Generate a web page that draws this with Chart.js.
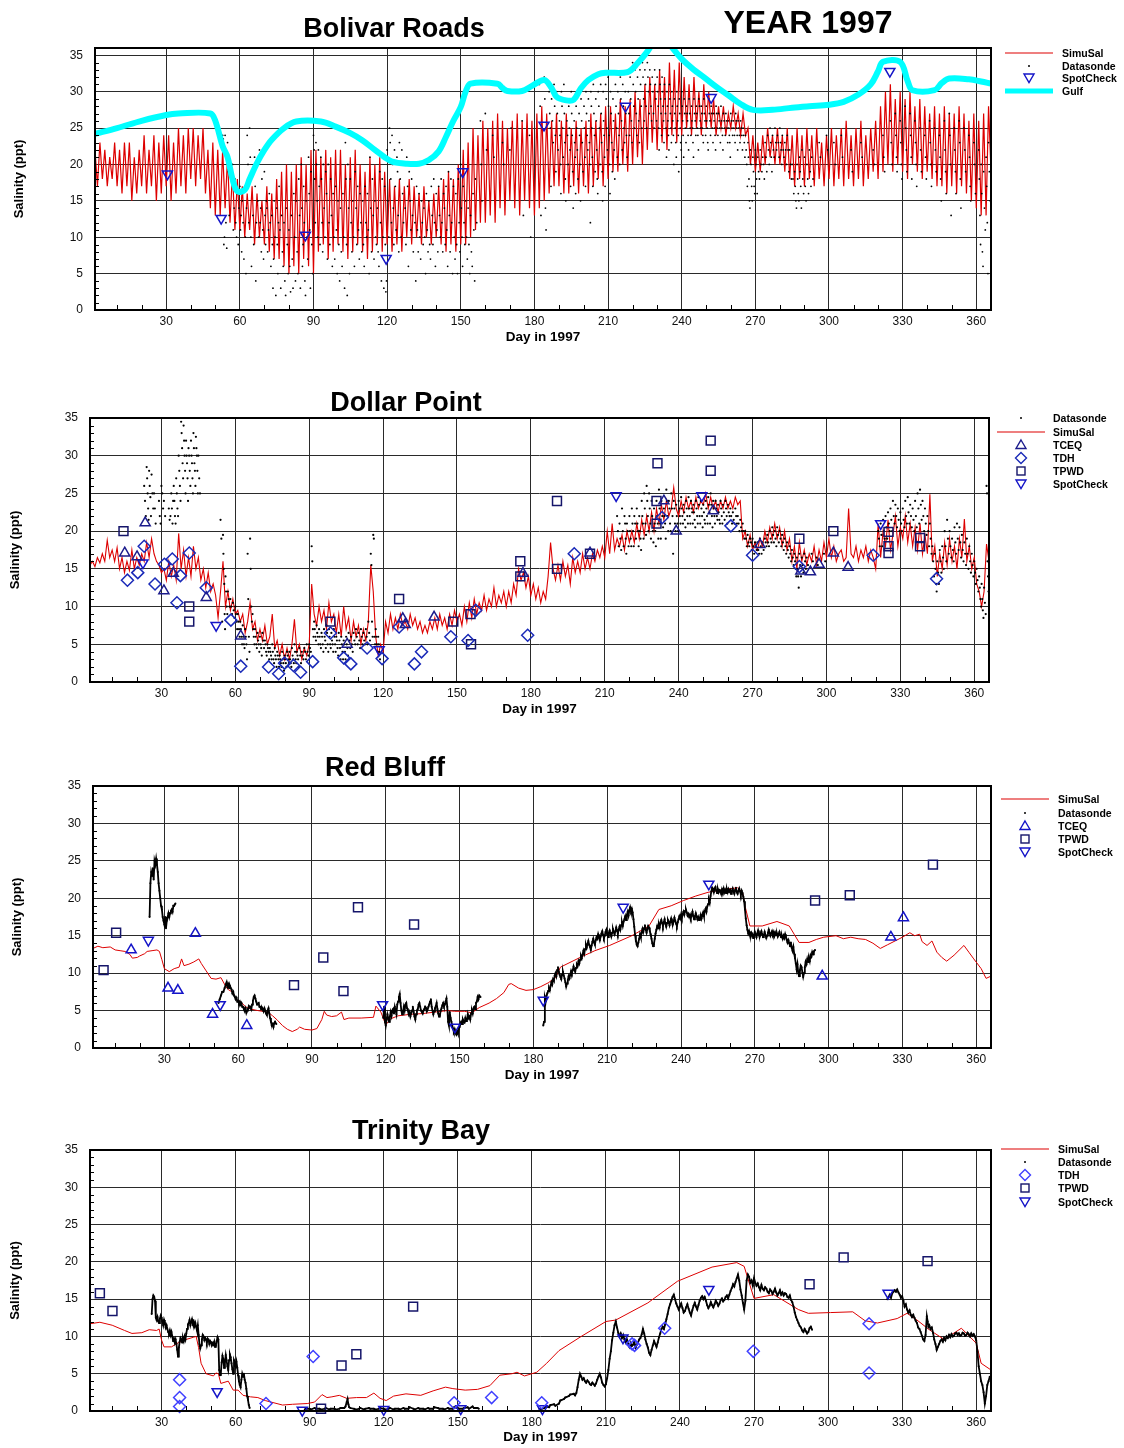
<!DOCTYPE html>
<html>
<head>
<meta charset="utf-8">
<script src="https://cdn.jsdelivr.net/npm/chart.js@4.4.0/dist/chart.umd.min.js"></script>
<style>
  body { margin: 0; background: #fff; width: 1124px; height: 1448px; position: relative; overflow: hidden;
         font-family: "Liberation Sans", Arial, sans-serif; }
  canvas { position: absolute; left: 0; }
  .title { position: absolute; font-weight: bold; font-size: 27px; line-height: 1; white-space: nowrap; transform: translateX(-50%); }
  .leg { position: absolute; font-weight: bold; font-size: 10.5px; line-height: 13px; white-space: nowrap; }
  .sym { position: absolute; }
</style>
</head>
<body>
<canvas id="bolivar" width="1124" height="350" style="top:0px"></canvas>
<canvas id="dollar" width="1124" height="345" style="top:375px"></canvas>
<canvas id="redbluff" width="1124" height="345" style="top:740px"></canvas>
<canvas id="trinity" width="1124" height="343" style="top:1105px"></canvas>

<div class="title" style="left:394px; top:15px">Bolivar Roads</div>
<div class="title" style="left:808px; top:6px; font-size:32px">YEAR 1997</div>
<div class="title" style="left:406px; top:389px">Dollar Point</div>
<div class="title" style="left:385px; top:754px">Red Bluff</div>
<div class="title" style="left:421px; top:1117px">Trinity Bay</div>

<script>
// ---- axis ticks ----
const dayTicks = [30, 60, 90, 120, 150, 180, 210, 240, 270, 300, 330, 360];
const salTicks = [0, 5, 10, 15, 20, 25, 30, 35];

// ================= Bolivar Roads =================
// SimuSal, one reading per day (day 1..366)
const bolSimSal = [
  22,17,23,18,22,17,21,18,23,17,
  22,16,23,17,23,15,21,16,22,17,
  24,16,22,17,24,15,23,16,24,17,
  24,15,23,16,25,17,24,16,25,18,
  25,17,24,18,25,16,22,14,23,13,
  22,13,22,14,21,12,19,11,18,11,
  17,10,16,11,17,9,16,10,15,9,
  17,8,16,7,18,7,19,6,20,5,
  19,6,20,5,21,7,20,6,22,5,
  22,8,21,9,22,7,21,8,22,9,
  22,8,20,7,21,8,22,9,20,8,
  19,7,21,8,20,9,21,8,19,9,
  18,8,17,9,18,8,17,10,18,9,
  17,10,16,9,17,10,15,9,16,10,
  17,9,18,8,19,9,18,8,20,9,
  22,9,23,10,25,11,24,12,26,12,
  25,13,26,12,27,14,26,13,25,15,
  26,14,27,13,26,15,27,14,26,13,
  27,14,28,15,27,16,26,17,27,17,
  26,16,27,16,25,17,26,16,25,17,
  26,16,27,17,26,18,27,17,28,18,
  28,19,27,19,29,20,28,19,29,20,
  30,21,29,20,31,22,32,23,31,22,
  33,23,32,22,34,24,33,23,34,24,
  32,25,31,24,32,25,30,24,31,25,
  30,25,29,24,28,25,28,24,27,25,
  28,25,27,24,27,24,25,20,24,19,
  23,19,24,20,25,21,24,20,25,20,
  24,19,25,18,24,17,25,18,24,17,
  25,18,24,17,25,18,23,17,24,18,
  25,17,24,18,25,17,26,18,24,17,
  25,18,26,17,24,18,25,19,26,18,
  28,19,30,20,31,19,29,20,30,19,
  29,18,30,20,28,19,29,18,28,19,
  27,18,28,17,27,17,28,16,27,17,
  27,16,28,17,27,16,26,15,27,14,
  26,13,27,13,28,19
];
// Gulf boundary salinity [day, ppt]
const bolGulf = [
  [1,24.2],[10,25],[20,26],[30,26.8],[35,27],[48,27],[50,26],[53,22.5],[55,21],[57,18],[59,16.3],
  [62,16.5],[64,18],[67,20.2],[70,22],[73,23.4],[78,25],[83,25.9],[93,25.9],[99,25.2],[105,24.3],
  [110,23.3],[115,22],[119,21],[122,20.4],[128,20.1],[133,20.1],[137,20.6],[141,21.8],[144,23.8],
  [147,26],[150,27.9],[152,30],[154,31.1],[165,31.1],[167,30.5],[169,30.1],[175,30.1],[179,30.8],
  [184,31.6],[187,30.5],[189,29.3],[193,28.8],[196,28.9],[199,30.5],[202,31.6],[206,32.4],[209,32.6],
  [218,32.7],[222,33.9],[226,35.5],[229,37],[232,37.5],[235,36.5],[240,34.5],[245,33],[249,32],
  [254,30.7],[259,29.5],[264,28.3],[269,27.5],[277,27.5],[285,27.8],[292,28],[300,28.2],[306,28.6],
  [312,29.6],[317,31],[320,32.8],[322,34.1],[329,34.1],[332,31.5],[334,30.2],[343,30.2],[346,31.2],
  [349,31.8],[357,31.7],[362,31.4],[366,31.1]
];
const bolSpot = [[30.5,18.7],[52.4,12.6],[86.7,10.3],[119.6,7.1],[150.8,19],[183.9,25.4],[217.1,28],[252,29.2],[324.8,32.8]];
// Datasonde: [day, readings...]
const bolSonde = [
  [53,24,23.5,9,10],[54,24,12,8.5],[55,23,19,13],[57,20,11,14],[58,18,12,10],[59,16,9,14],[60,17,11,13,8],
  [61,15,12,7],[62,17,10,5,14],[63,24,20,12],[64,25,21,10,6],[65,19,13,9],[66,21,17,4,12],[67,20,15,10],
  [68,22,12,14,8],[69,18,11,7],[70,19,13,9,15],[71,14,8,11],[72,16,12,6],[73,13,9,3,7],[74,15,10,2],
  [75,14,9,5,12],[76,17,11,3],[77,13,8,6],[78,12,4,2],[79,14,9,5],[80,11,6,2.5],[81,13,7,3],[82,16,10,4],
  [83,15,8,5],[84,18,13,3],[85,20,14,6,9],[86,17,12,4,2],[87,15,10,7],[88,21,16,11,3],[89,19,9,5],
  [90,24,22,18,12],[91,23,20,15,10],[92,22,17,9],[93,21,18,12,8],[94,20,14,10],[95,19,16,7],[96,20,12,9],
  [97,18,13,6],[98,16,10,7],[99,17,11,5],[100,15,9,4],[101,14,8,6],[102,16,10,3],[103,23,18,9,2],
  [104,20,14,5],[105,18,12,8],[106,15,10,6],[107,19,14,9],[108,17,11,7],[109,16,12,8],[110,15,9,6],
  [111,17,12,10],[112,16,11,5],[113,21,14,8],[114,18,13,7],[115,15,10,9],[116,14,8,6],[117,19,12,4],
  [118,18,10,3],[119,17,9,2.5,4],[120,22,15,10],[121,25,23,18,12],[122,24,20,14,9],[123,22,17,11],
  [124,21,19,13,8],[125,23,18,10],[126,22,16,12],[127,20,14,9],[128,21,17,6],[129,19,15,11],[130,18,13,8],
  [131,20,12,4],[132,17,11,8],[133,16,10,7],[134,15,12,9],[135,14,10,5],[136,16,11,8],[137,15,9,7],
  [138,17,13,9],[139,18,12,6],[140,16,11,8],[141,17,13,10],[142,18,12,8],[143,16,14,9],[144,17,11,6],
  [145,19,13,8],[146,18,12,5],[147,17,10,7],[148,16,9,5],[149,18,12,8],[150,20,14,10,6],[151,17,12,9],
  [152,15,10,7],[153,14,9,5],[154,13,8,6],[155,16,11,4],[156,18,12],[158,26,20,15],[160,27,22],
  [163,24,21],[167,23,20],[170,22,25],[175,26,13],[178,24,10],[182,31,28,13],[184,32,29,14,11],
  [186,30,27,25,17],[187,29,26,23],[188,31,28,24,19],[189,30,27,22],[190,29,26,24,20,16],[191,30,28,25,21],
  [192,31,27,23,18,15],[193,29,26,24,20],[194,28,25,22,17],[195,30,27,24,19,14],[196,29,26,23,21,16],
  [197,28,25,22,18],[198,30,27,24,20,15],[199,29,26,23,19],[200,31,28,25,21,17],[201,30,27,24,22],
  [202,29,26,23,20,12],[203,30,28,25,21,17],[204,31,27,24,19],[205,29,26,22,18,16],[206,30,28,25,20],
  [207,31,27,23,19,15],[208,30,26,24,21,17],[209,31,29,25,22],[210,32,28,24,20,16],[211,30,27,23,19],
  [212,29,26,22,18],[213,31,28,25,21],[214,30,27,24,20],[215,32,29,26,22],[216,31,28,25,23],
  [217,30,27,24,21],[218,33,30,27,24],[219,32,29,26,23],[220,34,31,28,25],[221,33,30,27,24],
  [222,32,29,26,23],[223,33,31,28,25],[224,34,32,29,26],[225,33,31,28,25],[226,34,32,30,27],
  [227,33,31,28,26],[228,32,30,27,25],[229,33,31,29,26],[230,32,30,28,25,22],[231,33,31,29,27,24],
  [232,32,30,28,26,23],[233,31,29,27,25,21],[234,30,28,26,24,22],[235,31,29,27,25,23],[236,30,28,26,24,20],
  [237,29,27,25,23,21],[238,30,28,26,24,19],[239,29,27,25,23,22],[240,30,28,26,24,21],[241,29,27,25,23],
  [242,28,27,26,24,22],[243,29,27,25,24],[244,28,26,25,23,21],[245,29,27,26,24],[246,28,27,25,24,22],
  [247,29,28,26,25],[248,28,27,25,24,23],[249,29,27,26,24],[250,28,26,25,23,22],[251,29,27,26,24],
  [252,28,27,25,23],[253,27,26,25,24,22],[254,28,27,25,24],[255,27,26,25,23],[256,28,26,25,24,22],
  [257,27,26,25,24],[258,27,26,25,23],[259,26,25,24,23,21],[260,27,26,25,24],[261,26,25,24,23],
  [262,27,26,25,24,22],[263,26,25,24,23],[264,26,25,24,22],[265,25,24,23,21],[266,24,22,20,17],
  [267,23,21,18,15,14],[268,22,20,17,15],[269,21,19,17,16],[270,22,20,18,16],[271,21,19,18],
  [272,22,20,19],[273,21,20,18],[274,23,21,19],[275,24,22,20],[276,25,23,21,19],[277,24,22,21],
  [278,25,23,22],[279,24,23,21],[280,25,23,22,20],[281,24,22,21],[282,23,22,20],[283,24,22,19],
  [284,22,20,18],[285,20,18,16],[286,19,17,15,14],[287,20,18,16,15],[288,21,19,17,14],[289,22,18,16],
  [290,21,17,15],[291,20,18,16],[292,22,19,17],[293,21,18],[296,23,21],[299,24,22],[302,23,20],
  [305,24,21],[309,22,19],[313,23,21],[318,22,20],[322,24,21,19],[325,26,23,20],[327,27,24,21,19],
  [329,26,23,20,18],[331,28,25,22,19],[333,27,24,21,18],[335,26,23,20,17],[337,25,22,19],[339,24,21,18],
  [341,26,23,20,17],[343,25,22,19],[345,24,21,18,15],[347,26,22,19,16],[349,27,24,20,13],[351,25,22,19,16],
  [353,26,23,18,14],[355,25,22,19],[357,24,21,17,15],[359,23,20,16],[361,22,18,13,9],[362,20,16,8,6],
  [363,19,14,11],[364,21,17,12,5],[365,23,19,15]
];

// ================= Dollar Point =================
const dolSimSal = [
  15.5,16,15.3,16.5,15.8,17,16,18.8,16.5,17.5,
  16,17.8,15,16.5,14.5,16,14.8,17.5,15,16.5,
  15.5,17,16,18.5,16.5,19,17,16,15.5,14.5,
  15,13.5,16,14,15.5,13.5,19.7,15,17.5,14,
  16.5,14,18,15,16.5,13.5,15,12.5,14.5,12,
  13,11.5,8.5,12,16,10,12,9.5,11,9,
  9.5,8,9,6.5,8,10.5,7,8,5.5,7,
  5.5,7.5,5,6,9,4.5,5.5,3.5,5,3,
  4.5,3,5,8.3,4,5,3,4.5,3.5,5,
  13,9,7.5,10,8,9.5,7,10.5,8,9,
  6.5,9,6,10,7,8.5,5.5,8,6,7.5,
  5,7,5.5,8,15.5,12,6,3.5,5,4,
  8,6.5,9,7,8.5,7,9,7.5,8,7,
  9,7.5,8.5,7,8,6.5,7.5,6.5,8,7,
  8.5,7,9,7.5,8.5,7,9,7.5,9.5,8,
  9,7.5,10,8,10.5,8.5,11,9,10.5,9.5,
  11.5,9.5,11,10,12.5,10,11.5,10.5,12,10,
  12,10.5,13,11.5,15,13.5,14.5,12.5,14,11.5,
  13,11,12.5,10.5,12,11,14,18.5,15,13.5,
  15.5,13.5,16,14,15.5,13,16.5,14.5,16,14.5,
  17,15,16.5,15,17,16,17.5,16.5,18,16.5,
  20,17,21,17.5,19,18,19.5,17.5,20,18.5,
  20,18.5,21,19,21.5,19.5,22,20,22.5,20,
  23,21,23.5,21.5,24,22,23,25.8,23,22,
  24,22.5,24.5,23,24,22.5,24.5,23,24,23.5,
  25,23,24.5,23,24,22.5,24,23,24.5,23,
  24,23,24.5,23.5,24,19,20,18,19.5,17.5,
  18.5,17.5,19,18,20,18.5,20.5,19,21,19,
  20.5,18,20,17.5,19,16,18,15,18.5,16,
  17.5,15.5,17,16,18,15.5,17.5,16,18.5,16.5,
  19,16.5,18,16,17,17.5,16,16.5,23,17,
  16.5,18,16,17.5,16.5,18,16,17.5,16.5,15,
  21,16.5,20,18,21.5,17.5,19.5,22,18,20.5,
  19,22,18.5,21,18,20.5,17.5,21,17,19.5,
  17,24.9,16,18,14,17,15,18.5,15.5,19,
  16,18,15,19,16.5,21.6,16,18,15,16.5,
  13,12,10,12,18.3,16
];
const dolSonde = [
  [23,26,24,22],[24,28.5,27,25,23,21.5],[25,28,26,24.5,22],[26,27.5,25,23],[27,25,23,21],[29,24,22,21],
  [30,26,25,23],[31,24,22],[33,23,21.5,22],[34,25,23,21,24],[35,26,24,22,21],[36,27,25,23,22],
  [37,30,28,26,24],[38,34.5,33,31,29,27],[39,34,32,30,28,25],[40,32,30,29,27,24],[41,31,30,28,26],
  [42,32,30,29,27,25],[43,33,31,29,28,26],[44,32.5,31,30,28,25],[45,30,27,25],
  [54,21.5,19,8],[55,19.5,17,15,13,9,7],[56,14,12,10,9],[57,12,11,10],[58,11,10,9],[59,10.5,9.5,8.5],
  [60,10,9,8,7],[61,9,8,7,6],[62,8,7,6,5],[63,7.5,6,5,4.5],[64,7,6,5,3],[65,17,11,6,4],[66,19,15,10,8],
  [67,9,7,6,5],[68,7,6,5,4.5],[69,6.5,5.5,5,4],[70,6,5,4.5,3.5],[71,6.5,5.5,4.5],[72,5.5,5,4,3.5],
  [73,5,4.5,4,3],[74,4.5,4,3.5,3],[75,5,4,3,2.5],[76,4.5,3.5,3,2],[77,4,3.5,3,2],[78,3.5,3,2.5,2],
  [79,4,3,2.5,1.5],[80,3.5,3,2.5,2],[81,4,3.5,3,2.5],[82,4,3,2.5,2],[83,4.5,3.5,3,2.5],[84,5,4,3,2.5],
  [85,4,3.5,3,2],[86,4.5,3.5,2.5],[87,4,3.5,3],[88,4.5,4,3],[89,5,4,3.5],[90,5,4.5,4],[91,18,16,7,6],
  [92,8,7,6,5.5],[93,7.5,6.5,6,5],[94,7,6,5,4.5],[95,6.5,6,5,4],[96,7,6,5.5,4.5],[97,7.5,6.5,5,4],
  [98,7,6,5,4.5],[99,6.5,5.5,5,4],[100,7,6,5,4],[101,6,5.5,4.5,3.5],[102,6.5,5.5,4.5,3],[103,6,5,4,3],
  [104,5.5,5,4,3],[105,6,5,4.5,3.5],[106,6.5,5.5,4.5],[107,6,5,4],[108,6.5,5.5,5],[109,7,6,5],
  [110,6.5,5.5,4.5],[111,7,6,5],[112,6.5,5.5,5],[113,7,6,5],[114,8,6.5,5.5],[115,17,15.5,8,6],
  [116,19.5,19,6,5],[117,7,6,5,4],[118,6,5,4,3],
  [215,22,20,18],[216,21,19,17.5],[217,23,20,18],[218,22,21,19,17],[219,21,20,18],[220,22,20,19,18],
  [221,23,21,20,18],[222,22,21,19],[223,23,21,20,18],[224,22,20,19,17.5],[225,24,22,21,19],
  [226,25,23,21,19.5],[227,26,24,22,20],[228,25,23,21,19],[229,24,22,20,18.5],[230,23,21,20,18],
  [231,24,22,21,19],[232,25.5,23,21,19],[233,24,22,20.5],[234,23,22,21,19],[235,25.5,24,22,20],
  [236,24,23,21,20],[237,25,23,22,17],[238,24,23,21,20],[239,23.5,22,21,20],[240,24,23,22,21],
  [241,24.5,23,22,21],[242,23.5,22.5,21.5,20.5],[243,24,23,22,21],[244,24.5,23,22,21],[245,24,23,22.5,21],
  [246,23.5,22.5,21.5,20.5],[247,24,23,22,21],[248,24.5,23.5,22,21],[249,24,23,22,20.5],
  [250,23.5,22.5,21.5,21],[251,24,23,22,21],[252,24.5,23.5,22.5,21],[253,25,23.5,22,20.5],
  [254,24,23,22,21],[255,24,23,22,21.5],[256,23.5,22.5,21.5,21],[257,24,23,22,21],[258,23.5,22.5,21.5],
  [259,24,23,22,21],[260,23.5,22.5,22],[261,23,22,21],[262,22.5,21.5,21],[263,23,22,21],[264,22,21,20],
  [265,21.5,20.5,20],[266,21,20,19],[267,20,19,18],[268,19.5,18.5,18],[269,19,18.5,17.5],[270,19,18,17],
  [271,18.5,18,17.5],[272,18.5,17.5,17],[273,19,18,17],[274,18.5,17.5],[275,19,18.5,18],[276,19.5,18.5,18],
  [277,20,19,18.5],[278,20.5,19.5,18.5],[279,20,19,18],[280,20.5,19.5,18.5],[281,20,19,18],
  [282,19.5,18.5,17.5],[283,19,18,17],[284,18.5,17.5,16.5],[285,18,17,16],[286,17.5,16.5,15.5],
  [287,17,16,15,14],[288,16.5,15,14,12.5],[289,17,15.5,14],[290,16.5,15.5,14.5],[291,17,16,15],
  [292,16.5,15.5],[294,17,16],[296,16.5,15.5],[299,17,16],
  [321,20,19,18],[322,21,19.5,18],[323,21.5,20,19],[324,22,20.5,19],[325,22.5,21,20],[326,23,21.5,20],
  [327,24,22,21],[328,23.5,22,20.5],[329,23,21.5,20],[330,22.5,21,20],[331,23,21.5,20.5],[332,24,22,21],
  [333,24.5,22.5,21],[334,23.5,22,20.5],[335,23,21.5,20],[336,24,22,20.5],[337,25,23,21],[338,25.5,23.5,21.5],
  [339,24,22,20],[340,23,21,19.5],[341,22,20,18],[342,21,19,17],[343,18,16,14],[344,17,15,13,12],
  [345,16,14.5,13],[346,17.5,16,14.5],[347,18,16.5,15],[348,20,18,16],[349,21.5,19,17],[350,20,18,16.5],
  [351,19,17.5,16],[352,20.5,18.5,17],[353,21,19,17.5],[354,20.5,18.5,16.5],[355,19.5,17.5,16],
  [356,18.5,17,15.5],[357,19,17,15],[358,18,16,14.5],[359,17,15.5,14],[360,16,14.5,13],[361,15,13.5,12],
  [362,14,12.5,11,10],[363,13,11,9.5,8.5],[364,12.5,10.5,9],[365,26,25,16,14,12]
];
const dolTceq = [[15.1,17.1],[20.1,16.6],[23.4,21.1],[31,12.1],[34.8,14.4],[48.2,11.2],[62.2,6.1],[105.4,5],
  [128,8.4],[129,7.6],[140.7,8.6],[176.8,14.4],[204,17.1],[234,24],[239,20],[254,22.7],[273,18.2],
  [289.6,14.7],[293.5,14.6],[297,15.6],[302.8,17.1],[308.8,15.2]];
const dolTdh = [[16.2,13.5],[20.4,14.5],[23,18],[27.4,13],[31.2,15.6],[34.4,16.3],[36.3,10.5],[37.7,14.1],
  [41.3,17.1],[48.2,12.5],[58.2,8.2],[62.2,2.1],[73.5,2],[77.6,1.1],[80,2.5],[83.6,2.2],[86.5,1.3],
  [91.4,2.7],[98.6,6.5],[104,3.2],[106.9,2.4],[113.5,4.5],[119.6,3.1],[126.5,7.3],[132.7,2.4],[135.6,4],
  [147.5,6],[154.5,5.5],[157.6,9.5],[178.7,6.2],[197.6,17],[233.3,21.8],[261.2,20.7],[270,16.8],
  [289,15.3],[319,16.8],[344.7,13.7]];
const dolTpwd = [[14.6,20],[41.3,10],[41.3,8],[98.6,8],[126.5,11],[148.5,8],[155.5,9],[155.7,5],[175.7,16],
  [175.7,14],[190.6,24],[190.6,15],[204,17],[231.4,29],[231,24],[231,21],[253,32],[253,28],[289,19],
  [302.8,20],[325.2,19.9],[325.2,18],[325.2,17.1],[338,19.1],[338,18]];
const dolSpot = [[22.5,15.8],[52.2,7.5],[118.4,4.3],[214.6,24.7],[249.4,24.7],[322,21]];

// ================= Red Bluff =================
const rbSimSal = [
  [1,13.3],[3,13.6],[5,13.4],[8,13.5],[10,13.1],[12,13],[14,12.9],[16,12.5],[17,12],[19,12.1],[20,12.3],
  [22,12.6],[23,12.9],[25,13],[27,13.1],[28,12.9],[29,11.8],[30,10.6],[32,10.2],[34,10.6],[36,10.8],
  [37,11.9],[38,11],[40,11.2],[42,11.5],[44,11.9],[45,11.3],[47,10.3],[49,9.3],[51,9.2],[53,9.4],
  [55,8.2],[56,7.8],[58,7.4],[59,6.5],[61,6.2],[63,5.5],[65,5.2],[68,5],[72,4.8],[74,4.3],[76,3.7],
  [78,3],[80,2.5],[82,2.2],[84,2.5],[85,2.8],[87,2.5],[90,2.4],[92,2.6],[94,3.8],[95,4.9],[96,4.4],
  [98,4.2],[100,4.3],[102,4.8],[103,3.8],[105,4],[110,4],[115,4.1],[116,5.6],[118,4.8],[120,3.1],
  [122,3.9],[125,4.3],[130,4.5],[135,4.6],[140,4.8],[145,5],[148,4.9],[152,4.9],[155,4.7],[158,5.4],
  [162,6],[165,6.6],[168,7.4],[170,8.5],[171,8.6],[174,8],[177,7.7],[180,7.8],[183,8.2],[186,8.7],
  [189,9.4],[191,10.8],[199,12.1],[205,13],[211,13.7],[220,15],[227,16.3],[231,18.5],[236,19],
  [241,19.7],[246,20.3],[251,20.8],[258,21.2],[263,21.4],[265,20.8],[266,19],[268,16.3],[273,16.3],
  [279,16.9],[284,16.3],[286,15.2],[288,14.1],[292,14.1],[295,14.5],[298,14.8],[303,15],[306,14.6],
  [309,14.8],[312,14.6],[315,14.5],[318,14],[321,13.3],[324,13.8],[327,14.3],[330,14.8],[333,15.4],
  [335,15],[337,15.2],[338,14.2],[340,13.7],[342,14.3],[344,12.8],[346,12.1],[348,11.6],[351,12.4],
  [355,13.7],[357,12.8],[359,11.9],[362,10.6],[364,9.3],[366,9.6]
];
const rbSonde = [
  [24,17.5,22,23.5],[25,23,24,22.5],[26,25,24.5,25.3],[27,24.5,23.5,22],[28,21,20,19],[29,18.5,17.5,17],
  [30,16.5,17.5,16],[31,17,17.5,18],[32,17.5,18,18.3],[33,18.5,18.2,19],[34,19,19.3],
  [52,6,6.5],[53,7,7.5],[54,7.5,8],[55,8.5,8.8,8.2],[56,8.5,8,8.3],[57,8,7.8,7.3],[58,7.5,7,6.8],
  [59,6.5,6.7,6.2],[60,6.3,6,6.2],[61,5.8,6,5.5],[62,5.5,5.2,5],[63,5.3,4.7,5],[64,5.2,5.6,5.4],
  [65,5.5,5.2,5.8],[66,6.3,6.8,7],[67,6.6,6.2,5.8],[68,5.9,6,5.5],[69,5.5,5.2,5.4],[70,5.2,4.9,5.3],
  [71,5,4.6,4.4],[72,5,5.3,4.6],[73,4,3.5,3],[74,3.2,2.8,3.3],[75,3.5,3.2],
  [119,4,5.5,3.5],[120,3,3.8,4.5],[121,4,3.5,4.2],[122,4.8,4.3,5],[123,5.2,4.6,5.5],[124,5,4.5,5.8],
  [125,6.2,6.8,7.2],[126,6,5,4.5],[127,4.8,5.5,5],[128,5.8,6,5.3],[129,5,4.5,4.8],[130,4.2,4.6,5],
  [131,5.5,4.8,4.2],[132,3.8,4.5,5],[133,5.2,5.8,6],[134,5.5,5,4.8],[135,4.6,5,5.2],[136,5.5,5.3,4.9],
  [137,5.2,5.5,5.8],[138,6.2,6.5,5.5],[139,5,4.5,4.9],[140,5.3,5.6,6],[141,5.2,4.6,4.2],[142,4.4,5,5.3],
  [143,5.7,6,5.6],[144,5.8,6.2,6.6],[145,5.5,3.5,3],[146,4.8,4,3.5],[147,3,2.6,2.2],[148,2.5,2,1.8],
  [149,2.2,1.9,2.6],[150,2.8,3.2,3.5],[151,3.2,3.8,3.5],[152,3.4,4,3.6],[153,3.8,4.5,4],[154,4.2,3.8,4.6],
  [155,5,4.6,5.3],[156,5.5,5.2,6],[157,6.2,6.8,6.5],[158,7,6.8],
  [184,3,3.5,6.7],[185,6.2,7,7.3],[186,7.6,8,7.7],[187,8.3,8.8,8.5],[188,9.2,9,9.7],[189,10,9.6,10.4],
  [190,10.8,10.2,9.8],[191,9.5,9.2,9.8],[192,10.2,9.7,9.3],[193,8.8,8.2,8.6],[194,9.1,9.6,9.3],
  [195,9.8,10.3,10],[196,10.4,10.9,10.5],[197,10.2,10.7,11.2],[198,11,11.6,11.3],[199,11.8,12.3,12],
  [200,12.5,13,12.6],[201,13.2,13.8,13.4],[202,13.9,14.3,13.8],[203,13.5,13.1,13.7],[204,14.2,14.6,14.1],
  [205,13.8,14.4,14.8],[206,14.6,15.2,14.8],[207,14.4,14.9,15.3],[208,15.6,15.1,14.7],[209,15,15.5,15.8],
  [210,15.2,14.8,15.4],[211,15.7,15.3,14.9],[212,15.4,15.9,15.5],[213,15.2,15.6,16.1],[214,15.7,15.3,15.8],
  [215,16.2,15.8,16.4],[216,16.8,16.3,16.9],[217,17.2,17.6,17.1],[218,17.8,18.2,17.7],[219,18.4,18.8,18.3],
  [220,18.6,18.1,17.2],[221,16.2,15.1,14.3],[222,13.8,13.6,14.1],[223,14.6,15.2,14.8],[224,15.4,15.9,15.5],
  [225,16,16.4,15.8],[226,15.4,15.9,16.3],[227,16.1,15.6,15.2],[228,14.6,14,13.6],[229,13.9,14.6,15.3],
  [230,15.8,16.3,16],[231,16.5,16.1,16.8],[232,17.1,16.7,16.3],[233,16.8,17.2,16.6],[234,16.2,16.7,17.1],
  [235,16.8,16.4,16.9],[236,17.3,16.8,16.5],[237,16.9,17.4,17],[238,16.6,16.3,16.8],[239,17.2,17.6,17.3],
  [240,17.8,17.4,17.9],[241,18.2,17.8,18.3],[242,18.5,18.1,17.7],[243,17.9,17.5,17.8],[244,17.4,17.8,18.2],
  [245,17.6,17.2,17.6],[246,18,17.6,17.2],[247,17.5,17.1,17.4],[248,17.8,17.3,17.7],[249,18.1,17.6,18.3],
  [250,18.6,18.2,18.9],[251,19.2,19.8,19.4],[252,20.3,20.9,21.4],[253,21.2,20.8,21.3],[254,21.5,21,20.7],
  [255,21.2,20.8,21.1],[256,21,20.6,21.2],[257,20.9,21.3,20.8],[258,21.1,20.7,21.2],[259,20.8,21.2,20.9],
  [260,21.1,20.6,21],[261,21.3,20.9,20.6],[262,21.1,21.4,20.8],[263,20.6,21,21.3],[264,20.9,20.5,21],
  [265,20.7,20.2,19.6],[266,18.5,17.3,16.4],[267,15.8,15.3,15.6],[268,15.1,14.9,15.4],[269,15.2,14.7,15.1],
  [270,15.5,15.1,14.8],[271,15.3,15.7,15.2],[272,14.9,15.3,15.6],[273,15.2,14.8,15.1],[274,15.5,15.1,14.7],
  [275,15,15.4,15.8],[276,15.4,15,15.3],[277,15.6,15.2,15.5],[278,15,15.4,15.1],[279,15.3,14.9,15.2],
  [280,15.5,15.1,14.8],[281,15,14.6,15],[282,14.7,15.2,14.8],[283,14.5,14.1,14.4],[284,14,13.6,14.1],
  [285,13.4,13,13.5],[286,12.6,12,11.3],[287,10.5,11.2,10],[288,9.6,10.4,11],[289,10.8,10.1,9.5],
  [290,10,10.8,11.5],[291,11.2,11.9,11.5],[292,12,11.6,12.4],[293,12.2,12.8,12.5],[294,12.9,13.1]
];
const rbTceq = [[16.5,13.1],[31.5,8],[35.5,7.7],[42.6,15.3],[49.6,4.5],[63.5,3],[297.4,9.6],[325.3,14.8],[330.4,17.4]];
const rbTpwd = [[5.3,10.4],[10.4,15.4],[82.7,8.4],[94.6,12.1],[102.8,7.6],[108.7,18.8],[131.5,16.5],[294.5,19.7],[308.6,20.4],[342.4,24.5]];
const rbSpot = [[23.5,14.4],[52.7,5.8],[118.7,5.8],[148.1,2.8],[184,6.4],[216.5,18.8],[251.3,21.9]];

// ================= Trinity Bay =================
const tbSimSal = [
  [1,11.7],[5,11.9],[10,11.5],[15,10.8],[18,10.4],[22,10.5],[25,10.9],[28,10.8],[29,11],[30,9.5],
  [31,8.6],[34,8.6],[37,9.2],[40,9.6],[43,9.9],[44,10],[45,8.5],[46,6.4],[48,5],[51,4.7],[52,5.1],
  [53,5],[54,3.7],[57,4],[59,2.8],[61,2.8],[63,2.1],[66,1.9],[69,1.8],[72,1.4],[79,0.8],[83,0.9],
  [89,1],[92,1.2],[95,2.2],[97,1.8],[99,1.9],[102,2.1],[105,1.7],[109,1.8],[113,1.8],[116,2.4],
  [118.5,1.7],[121,1.4],[124,2],[129,2.3],[135,2.1],[140,2.7],[145,3.2],[148,3],[153,2.8],[158,2.9],
  [163,3.4],[167,4.8],[172,5],[174,5.2],[177,4.7],[182,5.2],[186,6.4],[191,8.1],[200,10],[210,12],
  [214,12.2],[227,14.5],[239,17.4],[253,19.3],[263,19.9],[266,19.4],[270,15.1],[278,15.6],[288,13.6],
  [292,13.1],[301,13.2],[310,13.3],[315,12.1],[320,11.8],[328,12.4],[332,13.1],[336,12.2],[341,10.9],
  [347,9.6],[354,11.1],[360,9.1],[362,6.4],[366,5.5]
];
const tbSonde = [
  [26,13,15,15.5],[27,15.3,14.8,12.5],[28,12.2,12.6,12],[29,11.8,12.4,12.8],[30,12.5,12,11.5],
  [31,12.2,11.8,11.2],[32,11.5,11,10.6],[33,10.4,10.8,10.2],[34,10.6,10,9.4],[35,9.8,9.2,9.6],
  [36,9,8.2,7.3],[37,8.5,9.3,9.8],[38,9.6,9.2,9.8],[39,9.4,10,9.6],[40,10.4,11,11.6],[41,11.8,12.2,11.5],
  [42,11.9,12.3,11.8],[43,12,11.4,11.8],[44,11.3,10.8,11.5],[45,10.2,9,8.4],[46,8.8,9.6,10.2],
  [47,10,9.5,9.8],[48,9.6,9.2,9.7],[49,9.5,9,9.4],[50,9.2,8.8,9.1],[51,8.9,9.3,8.6],[52,8.8,9.4,9.9],
  [53,9.6,5.5,4.8],[54,5,6.5,7.4],[55,7,5.8,6.6],[56,7.5,6.8,6],[57,5.5,6.8,7.6],[58,7.2,6.4,5.6],
  [59,5,6.8,6.5],[60,6,6.6,5.8],[61,4.8,4,3.5],[62,3.2,4.2,5],[63,4.6,5,4.2],[64,3.8,3,2],[65,1.5,0.8,0.4],
  [88,0.2,0.3],[90,0.3,0.2],[92,0.4,0.3],[94,0.3,0.2],[96,0.3,0.4],[98,0.2,0.3],[100,0.3,0.2],[102,0.3,0.4],
  [104,0.4,0.6],[105,1.2,1.6,0.9],[106,0.5,0.4],[108,0.3,0.2],[110,0.3,0.4],[112,0.2,0.3],[114,0.4,0.3],
  [116,0.3,0.2],[118,0.3,0.4],[120,0.3,0.2],[122,0.3,0.4],[124,0.2,0.3],[126,0.3,0.2],[128,0.4,0.3],
  [130,0.3,0.5],[132,0.3,0.2],[134,0.4,0.3],[136,0.3,0.2],[138,0.4,0.3],[140,0.3,0.5],[142,0.4,0.3],
  [144,0.3,0.2],[146,0.4,0.3],[148,0.3,0.5],[150,0.4,0.3],[152,0.3,0.4],[154,0.5,0.3],[156,0.6,0.4],
  [158,0.4,0.3],
  [183,0.3,0.2],[185,0.4,0.6],[187,0.5,0.8],[189,0.9,0.7],[191,1,1.4],[193,1.6,1.8],[195,2,2.2],
  [197,2.3,2.1],[198,2.4,3.2],[199,4.2,5],[200,4.6,4.2],[201,4.4,4],[202,3.8,4.1],[203,3.9,3.6],
  [204,3.5,3.8],[205,3.6,3.4],[206,3.7,4.2],[207,4.6,5],[208,4.5,3.8],[209,3.5,3.3],[210,3.6,4.4],
  [211,5.5,7],[212,8,9.5],[213,10.5,11.5],[214,12,11.2],[215,10.5,10],[216,10.4,9.8],[217,10.2,9.6],
  [218,9.2,9.6],[219,9,8.6],[220,9.1,8.7],[221,8.9,9.3],[222,8.5,8.9],[223,9.2,9.6],[224,9.8,10.3],
  [225,11,10.4],[226,9.6,9],[227,8.5,7.8],[228,7.5,8.2],[229,8.8,9.4],[230,9,8.6],[231,9.2,9.9],
  [232,10.4,11],[233,11.3,11],[234,11.6,12.3],[235,13,13.8],[236,14.3,14.8],[237,15.3,15.6],[238,15,14.4],
  [239,14,13.6],[240,14,14.4],[241,13.8,13.2],[242,13.4,13.9],[243,14.3,13.7],[244,13.2,12.8],
  [245,13.5,14.1],[246,14.5,14],[247,13.6,14.2],[248,14.8,15.2],[249,15.4,15],[250,15.3,14.8],
  [251,14.2,13.8],[252,14.1,14.6],[253,14.2,13.9],[254,14.3,14.8],[255,14.5,14.1],[256,14.4,14.9],
  [257,15.1,14.7],[258,14.9,15.3],[259,15.5,15.1],[260,15.6,16.1],[261,16.5,17],[262,16.7,17.3],
  [263,17.8,18.3],[264,17.5,16.3],[265,15.5,14.5],[266,13.6,14.8],[267,17.5,18.3],[268,18,17.2],
  [269,17.5,16.8],[270,17.8,17.2],[271,16.8,17.1],[272,16.6,16.2],[273,16.9,16.4],[274,16.2,16.6],
  [275,16.4,16],[276,15.8,16.3],[277,16.1,15.7],[278,16,16.4],[279,15.9,15.5],[280,15.8,16.2],
  [281,15.6,15.9],[282,15.5,15.8],[283,15.7,15.3],[284,15.2,15.5],[285,14.9,14.6],[286,14,13.2],
  [287,12.6,12.2],[288,11.8,11.4],[289,11.2,10.8],[290,10.6,11],[291,10.7,10.4],[292,10.6,11.1],
  [293,11.3,10.9],
  [324,15,15.3],[325,15.6,15.2],[326,15.8,16],[327,16.2,16],[328,16.3,15.9],[329,15.6,15.2],
  [330,15.4,14.8],[331,14,14.3],[332,13.6,13.2],[333,13.5,12.9],[334,12.6,12.9],[335,12.5,12.1],
  [336,11.8,11.2],[337,11,10.6],[338,10.1,9.6],[339,9.4,10.2],[340,12.7,12,11.3],[341,11.5,11],
  [342,11.2,10.5],[343,9.6,9],[344,8.2,8.6],[345,9,9.4],[346,9.6,9.3],[347,9.8,9.5],[348,10,9.8],
  [349,10.2,9.9],[350,10.3,10],[351,10.1,10.4],[352,10.5,10.2],[353,10.4,10.1],[354,10.2,10.5],
  [355,10.4,10.1],[356,10.2,10.5],[357,10.3,10],[358,10.4,10.1],[359,10.3,10],[360,9.5,8],[361,6,5],
  [362,4,3.5],[363,2.5,1],[364,2,3.5],[365,4,4.6]
];
const tbTdh = [[37.3,4.2],[37.3,1.8],[37.3,0.6],[72.3,1],[91.4,7.3],[148.5,1.1],[163.7,1.8],[184,1.1],
  [220.6,9],[221.6,8.8],[233.8,11.1],[269.7,8],[316.6,11.7],[316.6,5.1]];
const tbTpwd = [[5,15.8],[10.1,13.4],[94.6,0.3],[102.9,6.1],[108.9,7.6],[131.9,14],[292.5,17],[306.3,20.6],[340.3,20.1]];
const tbSpot = [[52.5,2.6],[87,0.1],[120,0.2],[151.2,0.3],[184.3,0.3],[216.9,9.8],[251.7,16.3],[324.3,15.8]];

// ---------------- styling ----------------
const RED = '#dd0000';
const CYAN = '#00ffff';
const C_TCEQ = '#1c1c8c';
const C_TDH = '#1a2ab8';
const C_TDH_LIGHT = '#3f3fff';
const C_TPWD = '#15156a';
const C_SPOT = '#1414c8';

const pairs = arr => arr.map(p => ({ x: p[0], y: p[1] }));
const daily = arr => arr.map((v, i) => ({ x: i + 1, y: v }));
function sondePoints(rows, breakGap) {
  const pts = [];
  rows.forEach((r, i) => {
    if (breakGap && i > 0 && r[0] - rows[i - 1][0] > breakGap) pts.push({ x: r[0] - 0.5, y: null });
    const n = r.length - 1;
    r.slice(1).forEach((v, k) => pts.push({ x: r[0] + k / n, y: v }));
  });
  return pts;
}

const simLine = (data, w) => ({ label: 'SimuSal', data, showLine: true, borderColor: RED, borderWidth: w || 1,
  pointRadius: 0, order: 3, clip: 0 });
const dots = (data, r) => ({ label: 'Datasonde', data, showLine: false, pointRadius: r || 1,
  pointBackgroundColor: '#000', pointBorderWidth: 0, order: 2 });
const trace = data => ({ label: 'Datasonde', data, showLine: true, spanGaps: false, borderColor: '#000',
  borderWidth: 1.8, pointRadius: 1, pointBackgroundColor: '#000', pointBorderWidth: 0, order: 2 });
const marker = (label, data, style, color, rot) => ({ label, data: pairs(data), showLine: false,
  pointStyle: style, rotation: rot || 0, pointRadius: style === 'rect' ? 6.3 : style === 'rectRot' ? 6 : 5.8,
  pointBackgroundColor: 'rgba(0,0,0,0)', pointBorderColor: color, pointBorderWidth: 1.5, order: 0, clip: false });

const tickFont = { family: '"Liberation Sans", Arial, sans-serif', size: 12 };
const titleFont = { family: '"Liberation Sans", Arial, sans-serif', size: 13, weight: 'bold' };

const framePlugin = {
  id: 'frame',
  afterDatasetsDraw(chart) {
    const { ctx, chartArea: a, scales: { x, y } } = chart;
    ctx.save();
    ctx.strokeStyle = '#000';
    ctx.lineWidth = 1;
    ctx.beginPath();
    for (let v = 1; v < y.max; v++) {
      if (v % 5 === 0) continue;
      const py = Math.round(y.getPixelForValue(v)) + 0.5;
      ctx.moveTo(a.left, py); ctx.lineTo(a.left + 4, py);
    }
    for (let d = 10; d < x.max; d += 10) {
      if (d % 30 === 0) continue;
      const px = Math.round(x.getPixelForValue(d)) + 0.5;
      ctx.moveTo(px, a.bottom); ctx.lineTo(px, a.bottom - 5);
    }
    ctx.stroke();
    ctx.lineWidth = 2;
    ctx.strokeRect(a.left, a.top, a.right - a.left, a.bottom - a.top);
    ctx.restore();
  }
};

function buildPanel(p) {
  new Chart(document.getElementById(p.id), {
    type: 'scatter',
    data: { datasets: p.datasets },
    options: {
      responsive: false,
      animation: false,
      devicePixelRatio: 1,
      events: [],
      layout: { padding: { left: 0, top: p.top, right: 1124 - p.right, bottom: 0 } },
      plugins: { legend: { display: false }, tooltip: { enabled: false } },
      scales: {
        x: {
          type: 'linear', min: 1, max: 366,
          afterBuildTicks: s => { s.ticks = dayTicks.map(v => ({ value: v })); },
          afterFit: s => { s.height = p.height - p.bottom; },
          grid: { color: '#2a2a2a', lineWidth: 1, drawTicks: false },
          border: { display: false },
          ticks: { padding: 4, font: tickFont, color: '#111', maxRotation: 0, autoSkip: false },
          title: { display: true, text: 'Day in 1997', font: { ...titleFont, size: 13.5 }, color: '#000',
                   padding: { top: 0, bottom: p.xTitlePad } }
        },
        y: {
          type: 'linear', min: 0, max: p.yMax,
          afterBuildTicks: s => { s.ticks = salTicks.map(v => ({ value: v })); },
          afterFit: s => { s.width = p.left; },
          grid: { color: '#2a2a2a', lineWidth: 1, drawTicks: false },
          border: { display: false },
          ticks: { padding: 12, font: tickFont, color: '#111', autoSkip: false },
          title: { display: true, text: 'Salinity (ppt)', font: titleFont, color: '#000',
                   padding: { top: p.yTitlePad, bottom: 0 } }
        }
      }
    },
    plugins: [framePlugin]
  });
}

buildPanel({
  id: 'bolivar', height: 350, top: 48, bottom: 310, left: 95, right: 991, yMax: 36, yTitlePad: 12, xTitlePad: 5,
  datasets: [
    marker('SpotCheck', bolSpot, 'triangle', C_SPOT, 180),
    { label: 'Gulf', data: pairs(bolGulf), showLine: true, borderColor: CYAN, borderWidth: 6, pointRadius: 0,
      tension: 0.35, order: 1, clip: 0 },
    dots(sondePoints(bolSonde), 0.9),
    simLine(daily(bolSimSal), 1.2)
  ]
});

buildPanel({
  id: 'dollar', height: 345, top: 43, bottom: 307, left: 90, right: 989, yMax: 35, yTitlePad: 8, xTitlePad: 3,
  datasets: [
    marker('TCEQ', dolTceq, 'triangle', C_TCEQ),
    marker('TDH', dolTdh, 'rectRot', C_TDH),
    marker('TPWD', dolTpwd, 'rect', C_TPWD),
    marker('SpotCheck', dolSpot, 'triangle', C_SPOT, 180),
    dots(sondePoints(dolSonde), 1.1),
    simLine(daily(dolSimSal), 1.1)
  ]
});

buildPanel({
  id: 'redbluff', height: 345, top: 46, bottom: 308, left: 93, right: 991, yMax: 35, yTitlePad: 10, xTitlePad: 2,
  datasets: [
    marker('TCEQ', rbTceq, 'triangle', C_SPOT),
    marker('TPWD', rbTpwd, 'rect', C_TPWD),
    marker('SpotCheck', rbSpot, 'triangle', C_SPOT, 180),
    trace(sondePoints(rbSonde, 4)),
    simLine(pairs(rbSimSal), 1)
  ]
});

buildPanel({
  id: 'trinity', height: 343, top: 45, bottom: 306, left: 90, right: 991, yMax: 35, yTitlePad: 8, xTitlePad: 3,
  datasets: [
    marker('TDH', tbTdh, 'rectRot', C_TDH_LIGHT),
    marker('TPWD', tbTpwd, 'rect', C_TPWD),
    marker('SpotCheck', tbSpot, 'triangle', C_SPOT, 180),
    trace(sondePoints(tbSonde, 4)),
    simLine(pairs(tbSimSal), 1)
  ]
});

// ---------------- legends (html) ----------------
const SYMBOLS = {
  line: c => `<line x1="0" y1="7" x2="48" y2="7" stroke="${c}" stroke-width="1.2"/>`,
  thick: c => `<line x1="0" y1="7" x2="48" y2="7" stroke="${c}" stroke-width="5"/>`,
  dot: c => `<circle cx="24" cy="7" r="1" fill="${c}"/>`,
  up: c => `<polygon points="24,2 29,10.5 19,10.5" fill="none" stroke="${c}" stroke-width="1.4"/>`,
  down: c => `<polygon points="19,3 29,3 24,11.5" fill="none" stroke="${c}" stroke-width="1.4"/>`,
  diamond: c => `<polygon points="24,1.5 29.5,7 24,12.5 18.5,7" fill="none" stroke="${c}" stroke-width="1.4"/>`,
  square: c => `<rect x="20" y="3" width="8" height="8" fill="none" stroke="${c}" stroke-width="1.4"/>`
};
function legend(symCenter, labelX, rows) {
  rows.forEach(([y, kind, color, text]) => {
    const svg = document.createElementNS('http://www.w3.org/2000/svg', 'svg');
    svg.setAttribute('class', 'sym');
    svg.setAttribute('width', 48); svg.setAttribute('height', 14);
    svg.style.left = (symCenter - 24) + 'px'; svg.style.top = (y - 7) + 'px';
    svg.innerHTML = SYMBOLS[kind](color);
    document.body.appendChild(svg);
    const d = document.createElement('div');
    d.className = 'leg';
    d.style.left = labelX + 'px'; d.style.top = (y - 6.5) + 'px';
    d.textContent = text;
    document.body.appendChild(d);
  });
}
legend(1029, 1062, [[53, 'line', RED, 'SimuSal'], [66, 'dot', '#000', 'Datasonde'],
  [78, 'down', C_SPOT, 'SpotCheck'], [91, 'thick', CYAN, 'Gulf']]);
legend(1021, 1053, [[418, 'dot', '#000', 'Datasonde'], [432, 'line', RED, 'SimuSal'], [445, 'up', C_TCEQ, 'TCEQ'],
  [458, 'diamond', C_TDH, 'TDH'], [471, 'square', C_TPWD, 'TPWD'], [484, 'down', C_SPOT, 'SpotCheck']]);
legend(1025, 1058, [[799, 'line', RED, 'SimuSal'], [813, 'dot', '#000', 'Datasonde'], [826, 'up', C_SPOT, 'TCEQ'],
  [839, 'square', C_TPWD, 'TPWD'], [852, 'down', C_SPOT, 'SpotCheck']]);
legend(1025, 1058, [[1149, 'line', RED, 'SimuSal'], [1162, 'dot', '#000', 'Datasonde'], [1175, 'diamond', C_TDH_LIGHT, 'TDH'],
  [1188, 'square', C_TPWD, 'TPWD'], [1202, 'down', C_SPOT, 'SpotCheck']]);
</script>
</body>
</html>
